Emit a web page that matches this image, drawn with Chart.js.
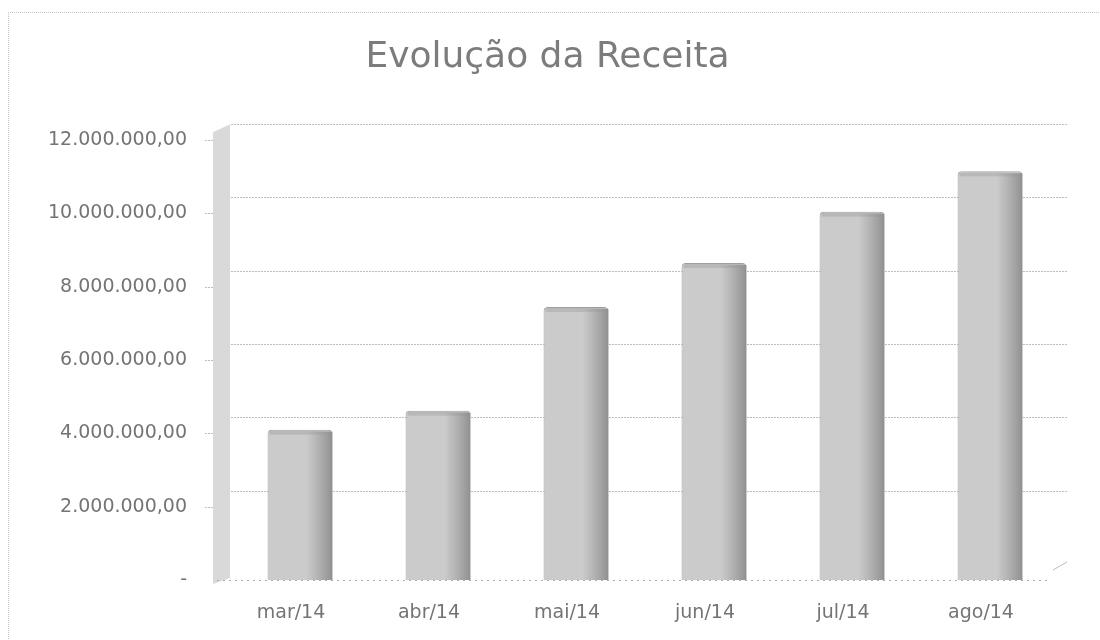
<!DOCTYPE html>
<html>
<head>
<meta charset="utf-8">
<script src="https://cdn.jsdelivr.net/npm/chart.js@4/dist/chart.umd.min.js"></script>
<style>
  body { margin: 0; background: #fff; }
  #wrap { position: relative; width: 1100px; height: 640px; }
  #frame { position: absolute; left: 8px; top: 12px; width: 1100px; height: 640px;
           border-left: 1px dotted #c4c4c4; border-top: 1px dotted #c4c4c4; }
  canvas { position: absolute; left: 0; top: 0; }
</style>
</head>
<body>
<div id="wrap">
  <div id="frame"></div>
  <canvas id="receitaChart" width="1100" height="640"></canvas>
</div>
<script>
// Valores (R$)
const months = ['mar/14', 'abr/14', 'mai/14', 'jun/14', 'jul/14', 'ago/14'];
const receita = [4100000, 4620000, 7450000, 8650000, 10050000, 11150000];
const tickValues = [0, 2000000, 4000000, 6000000, 8000000, 10000000, 12000000];
const tickLabels = ['-', '2.000.000,00', '4.000.000,00', '6.000.000,00', '8.000.000,00', '10.000.000,00', '12.000.000,00'];

const DEPTH = 16; // deslocamento da parede do fundo (efeito 3D)

// parede, grade do fundo e piso, imitando o gráfico 3D do Excel
const excel3d = {
  id: 'excel3d',
  beforeDatasetsDraw(chart) {
    const { ctx, chartArea: a, scales: { y } } = chart;
    const floor = y.getPixelForValue(0);
    const top = y.getPixelForValue(12000000);
    ctx.save();

    // parede lateral
    ctx.fillStyle = '#d9d9d9';
    ctx.beginPath();
    ctx.moveTo(a.left - 18, top - 8);
    ctx.lineTo(a.left - 1, top - DEPTH);
    ctx.lineTo(a.left - 1, floor - 2);
    ctx.lineTo(a.left - 18, floor + 4);
    ctx.closePath();
    ctx.fill();

    // grade no plano do fundo
    ctx.strokeStyle = '#bdbdbd';
    ctx.lineWidth = 1;
    ctx.setLineDash([2, 1]);
    tickValues.forEach(v => {
      if (v === 0) return;
      const py = Math.round(y.getPixelForValue(v) - DEPTH) + 0.5;
      ctx.beginPath();
      ctx.moveTo(a.left, py);
      ctx.lineTo(a.right + 8, py);
      ctx.stroke();
      // marca na frente da parede
      const fy = Math.round(y.getPixelForValue(v)) + 0.5;
      ctx.beginPath();
      ctx.moveTo(a.left - 26, fy);
      ctx.lineTo(a.left - 18, fy);
      ctx.stroke();
    });

    // piso
    ctx.setLineDash([2, 4]);
    ctx.strokeStyle = '#ababab';
    ctx.beginPath();
    ctx.moveTo(a.left - 14, floor + 0.5);
    ctx.lineTo(a.right - 8, floor + 0.5);
    ctx.stroke();
    ctx.setLineDash([]);
    ctx.strokeStyle = '#bdbdbd';
    ctx.beginPath();
    ctx.moveTo(a.right - 6, floor - 10);
    ctx.lineTo(a.right + 8, floor - 18);
    ctx.stroke();
    ctx.restore();
  },
  afterDatasetsDraw(chart) {
    const { ctx } = chart;
    const meta = chart.getDatasetMeta(0);
    ctx.save();
    meta.data.forEach(bar => {
      const { x, y, base, width } = bar.getProps(['x', 'y', 'base', 'width'], true);
      const left = x - width / 2;
      const g = ctx.createLinearGradient(left + width * 0.6, 0, left + width, 0);
      g.addColorStop(0, 'rgba(110,110,110,0)');
      g.addColorStop(1, 'rgba(95,95,95,0.55)');
      ctx.fillStyle = g;
      ctx.fillRect(left + width * 0.6, y + 2, width * 0.4, base - y - 2);
      ctx.fillStyle = 'rgba(150,150,150,0.35)';
      ctx.fillRect(left + 2, y + 1, width - 4, 4);
    });
    ctx.restore();
  }
};

const ctx = document.getElementById('receitaChart').getContext('2d');
new Chart(ctx, {
  type: 'bar',
  data: {
    labels: months,
    datasets: [{
      label: 'Receita',
      data: receita,
      backgroundColor: '#cbcbcb',
      borderColor: '#a0a0a0',
      borderWidth: 1,
      borderRadius: { topLeft: 4, topRight: 4 },
      borderSkipped: 'bottom',
      categoryPercentage: 1,
      barPercentage: 0.47
    }]
  },
  options: {
    responsive: false,
    animation: false,
    layout: { padding: { left: 36, right: 41, top: 0, bottom: 0 } },
    plugins: {
      legend: { display: false },
      tooltip: { enabled: false },
      title: {
        display: true,
        text: 'Evolução da Receita',
        color: '#7c7c7c',
        font: { family: 'DejaVu Sans', size: 36, weight: 'normal' },
        padding: { top: 36, bottom: 61 }
      }
    },
    scales: {
      x: {
        grid: { display: false, drawTicks: false },
        border: { display: false },
        ticks: {
          color: '#747474',
          font: { family: 'DejaVu Sans', size: 19 },
          padding: 22,
          labelOffset: -9
        },
        afterFit(scale) { scale.height = 60; }
      },
      y: {
        min: 0,
        max: 12000000,
        grid: { display: false, drawTicks: false },
        border: { display: false },
        afterBuildTicks(scale) {
          scale.ticks = tickValues.map(v => ({ value: v }));
        },
        ticks: {
          color: '#747474',
          font: { family: 'DejaVu Sans', size: 19 },
          padding: 44,
          callback: (value, index) => tickLabels[index]
        },
        afterFit(scale) { scale.width = 195; }
      }
    }
  },
  plugins: [excel3d]
});
</script>
</body>
</html>
